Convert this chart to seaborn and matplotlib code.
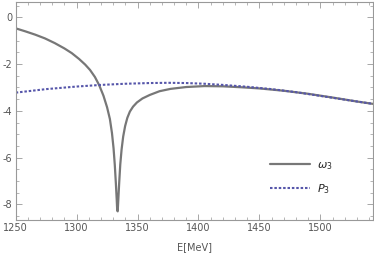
import pandas as pd
import matplotlib
matplotlib.use("Agg")
import matplotlib.pyplot as plt
import seaborn as sns
from matplotlib.ticker import MultipleLocator

# omega_3 curve
e_omega = [1250, 1258, 1266, 1274, 1282, 1290, 1296, 1302, 1307, 1311, 1315, 1318.5,
           1322, 1325, 1327.3, 1329, 1330.3, 1331.3, 1332.2, 1332.9, 1333.3, 1333.7,
           1334.2, 1334.9, 1335.8, 1336.9, 1338.2, 1339.8, 1341.6, 1343.7, 1346.3, 1349.5,
           1354, 1360, 1368, 1377, 1390, 1405, 1420, 1435, 1450, 1470, 1490, 1510, 1530, 1543]
v_omega = [-0.47, -0.6, -0.74, -0.9, -1.1, -1.33, -1.53, -1.78, -2.02, -2.25, -2.55, -2.9,
           -3.35, -3.85, -4.35, -4.95, -5.6, -6.3, -7.1, -7.8, -8.25, -8.3,
           -7.8, -7.1, -6.3, -5.65, -5.1, -4.65, -4.3, -4.03, -3.82, -3.64,
           -3.47, -3.32, -3.16, -3.06, -2.98, -2.94, -2.95, -2.99, -3.04, -3.14, -3.27, -3.43, -3.6, -3.7]

# P_3 curve
e_p3 = [1250, 1275, 1300, 1320, 1340, 1360, 1375, 1390, 1405, 1420, 1440, 1460,
        1480, 1500, 1520, 1543]
v_p3 = [-3.22, -3.07, -2.96, -2.89, -2.84, -2.81, -2.8, -2.81, -2.84, -2.89, -2.97, -3.07,
        -3.2, -3.36, -3.52, -3.7]

sns.set_style("ticks")
plt.rcParams["axes.unicode_minus"] = False
fig = plt.figure(figsize=(3.74, 2.61), dpi=100)
ax = fig.add_axes([0.042, 0.157, 0.9546, 0.8365])

sns.lineplot(x=e_omega, y=v_omega, ax=ax, color="#777777", lw=1.6, label=r"$\omega_3$")
sns.lineplot(x=e_p3, y=v_p3, ax=ax, color="#5656aa", lw=1.5, ls=(0, (1.2, 0.9)), label=r"$P_3$")

ax.set_xlim(1250, 1543)
ax.set_ylim(-8.67, 0.67)
ax.xaxis.set_major_locator(MultipleLocator(50))
ax.xaxis.set_minor_locator(MultipleLocator(10))
ax.yaxis.set_major_locator(MultipleLocator(2))
ax.yaxis.set_minor_locator(MultipleLocator(0.5))
ax.tick_params(which="both", direction="in", top=True, right=True, colors="#999999",
               labelcolor="#555555", labelsize=7)
ax.tick_params(which="major", length=4, width=0.6, pad=2.5)
ax.tick_params(which="minor", length=2, width=0.5)
for s in ax.spines.values():
    s.set_color("#999999")
    s.set_linewidth(0.8)

ax.set_xlabel("E[MeV]", fontsize=7, color="#555555", labelpad=6)
ax.set_ylabel("")

ax.legend(loc="lower right", bbox_to_anchor=(0.915, 0.065), frameon=False, fontsize=8,
          handlelength=3.6, handletextpad=0.6, labelspacing=0.9)

fig.savefig("out.png", dpi=100)
